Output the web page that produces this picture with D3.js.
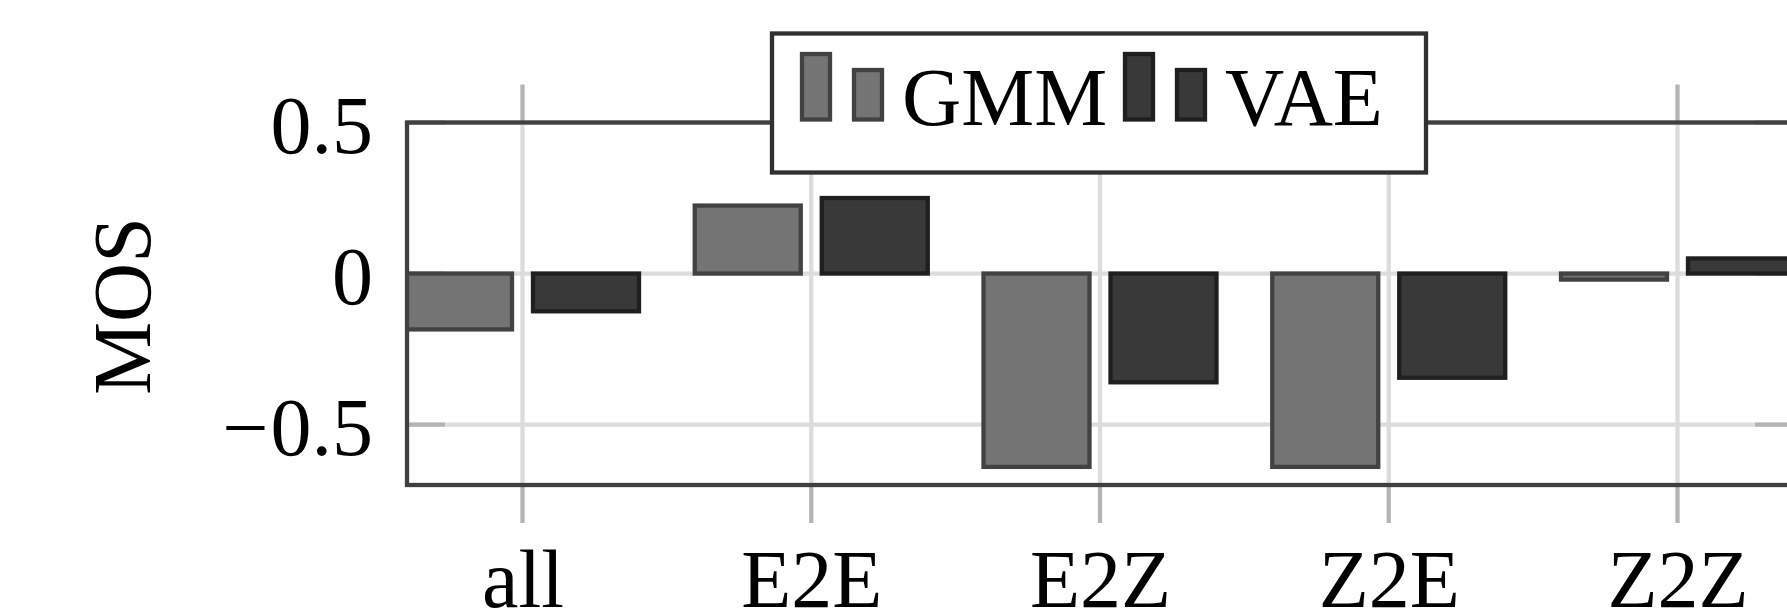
<!DOCTYPE html>
<html>
<head>
<meta charset="utf-8">
<script src="https://cdn.jsdelivr.net/npm/d3@7"></script>
<style>
  html, body { margin: 0; padding: 0; background: #fff; }
  svg { display: block; }
  text { font-family: "Liberation Serif", "Times New Roman", serif; fill: #000; }
</style>
</head>
<body>
<svg id="chart" width="1787" height="609"></svg>
<script>
// Mean opinion score difference per condition
const categories = ["all", "E2E", "E2Z", "Z2E", "Z2Z"];
const seriesNames = ["GMM", "VAE"];
const gmmValues = [-0.185, 0.225, -0.64, -0.64, -0.02];
const vaeValues = [-0.125, 0.25, -0.36, -0.345, 0.05];
const yTicks = [-0.5, 0, 0.5];
const yLabel = "MOS";

const fills = { GMM: "#747474", VAE: "#393939" };
const strokes = { GMM: "#424242", VAE: "#1f1f1f" };

const W = 1787, H = 609;
const plot = { left: 407, top: 122.5, bottom: 485 };
const catStep = 288.75;
const fontSize = 82;

const svg = d3.select("#chart");

// index-based x scale with 0.4 category padding on either side
const x = d3.scaleLinear()
  .domain([-0.4, categories.length - 1 + 0.4])
  .range([plot.left, plot.left + catStep * (categories.length - 1 + 0.8)]);
const y = d3.scaleLinear().domain([-0.7, 0.5]).range([plot.bottom, plot.top]);
const plotRight = x(categories.length - 1 + 0.4);

const barWidth = 106;      // bar width in px
const barShift = 63.5;     // offset of each series from the category centre
const shifts = { GMM: -barShift, VAE: barShift };

const gridColor = "#dcdcdc";
const tickColor = "#b4b4b4";
const lw = 4.3;

// clip region for the plot area
svg.append("defs").append("clipPath").attr("id", "plotClip")
  .append("rect")
  .attr("x", plot.left).attr("y", plot.top)
  .attr("width", plotRight - plot.left).attr("height", plot.bottom - plot.top);

// grid lines
const grid = svg.append("g");
grid.selectAll("line.hg").data(yTicks).join("line")
  .attr("x1", plot.left).attr("x2", plotRight)
  .attr("y1", d => y(d)).attr("y2", d => y(d))
  .attr("stroke", gridColor).attr("stroke-width", lw);
grid.selectAll("line.vg").data(categories.map((c, i) => i)).join("line")
  .attr("x1", d => x(d)).attr("x2", d => x(d))
  .attr("y1", plot.top).attr("y2", plot.bottom)
  .attr("stroke", gridColor).attr("stroke-width", lw);

// x ticks pointing outward at top and bottom
const tickLen = 38;
const ticks = svg.append("g");
categories.forEach((c, i) => {
  ticks.append("line")
    .attr("x1", x(i)).attr("x2", x(i))
    .attr("y1", plot.top - tickLen).attr("y2", plot.top)
    .attr("stroke", tickColor).attr("stroke-width", lw);
  ticks.append("line")
    .attr("x1", x(i)).attr("x2", x(i))
    .attr("y1", plot.bottom).attr("y2", plot.bottom + tickLen)
    .attr("stroke", tickColor).attr("stroke-width", lw);
});
// y ticks pointing inward from both side axes
yTicks.forEach(v => {
  ticks.append("line")
    .attr("x1", plot.left).attr("x2", plot.left + tickLen)
    .attr("y1", y(v)).attr("y2", y(v))
    .attr("stroke", tickColor).attr("stroke-width", lw);
  ticks.append("line")
    .attr("x1", plotRight - tickLen).attr("x2", plotRight)
    .attr("y1", y(v)).attr("y2", y(v))
    .attr("stroke", tickColor).attr("stroke-width", lw);
});

// bars
const rows = [];
categories.forEach((c, i) => {
  rows.push({ series: "GMM", i, v: gmmValues[i] });
  rows.push({ series: "VAE", i, v: vaeValues[i] });
});
svg.append("g").attr("clip-path", "url(#plotClip)")
  .selectAll("rect").data(rows).join("rect")
  .attr("x", d => x(d.i) + shifts[d.series] - barWidth / 2)
  .attr("width", barWidth)
  .attr("y", d => y(Math.max(0, d.v)))
  .attr("height", d => Math.abs(y(d.v) - y(0)))
  .attr("fill", d => fills[d.series])
  .attr("stroke", d => strokes[d.series])
  .attr("stroke-width", lw);

// frame
svg.append("rect")
  .attr("x", plot.left).attr("y", plot.top)
  .attr("width", plotRight - plot.left).attr("height", plot.bottom - plot.top)
  .attr("fill", "none").attr("stroke", "#404040").attr("stroke-width", lw);

// y axis labels
const yAxis = svg.append("g")
  .attr("transform", `translate(${plot.left},0)`)
  .call(d3.axisLeft(y).tickValues(yTicks).tickSize(0).tickPadding(34)
    .tickFormat(d => d3.format("")(Math.abs(d))));
yAxis.select(".domain").remove();
yAxis.selectAll("text")
  .attr("font-size", fontSize)
  .attr("font-family", "Liberation Serif")
  .attr("fill", "#000")
  .attr("dy", "0.36em")
  .each(function (d) {
    const t = d3.select(this);
    const s = t.text();
    t.text(null);
    if (d < 0) t.append("tspan").text("\u2212");
    t.append("tspan").attr("dx", d < 0 ? 2 : 0).text(s);
  });

// x axis labels
const xAxis = svg.append("g")
  .attr("transform", `translate(0,${plot.bottom})`)
  .call(d3.axisBottom(x).tickValues(categories.map((c, i) => i)).tickSize(0)
    .tickFormat(i => categories[i]));
xAxis.select(".domain").remove();
xAxis.selectAll("text")
  .attr("font-size", fontSize)
  .attr("font-family", "Liberation Serif")
  .attr("fill", "#000")
  .attr("y", 122).attr("dy", 0);

// y axis title
svg.append("text")
  .attr("transform", "translate(150,306) rotate(-90)")
  .attr("text-anchor", "middle")
  .attr("font-size", fontSize)
  .text(yLabel);

// legend
const legend = svg.append("g");
legend.append("rect")
  .attr("x", 772).attr("y", 33.5).attr("width", 654).attr("height", 139)
  .attr("fill", "#fff").attr("stroke", "#303030").attr("stroke-width", lw);
const legendX = { GMM: 802, VAE: 1125 };
seriesNames.forEach(name => {
  const g = legend.append("g").attr("transform", `translate(${legendX[name]},0)`);
  g.append("rect").attr("x", 0).attr("y", 54).attr("width", 28).attr("height", 65.5)
    .attr("fill", fills[name]).attr("stroke", strokes[name]).attr("stroke-width", lw);
  g.append("rect").attr("x", 52).attr("y", 70).attr("width", 28).attr("height", 49.5)
    .attr("fill", fills[name]).attr("stroke", strokes[name]).attr("stroke-width", lw);
  g.append("text").attr("x", 100).attr("y", 125)
    .attr("font-size", fontSize).text(name);
});
</script>
</body>
</html>
